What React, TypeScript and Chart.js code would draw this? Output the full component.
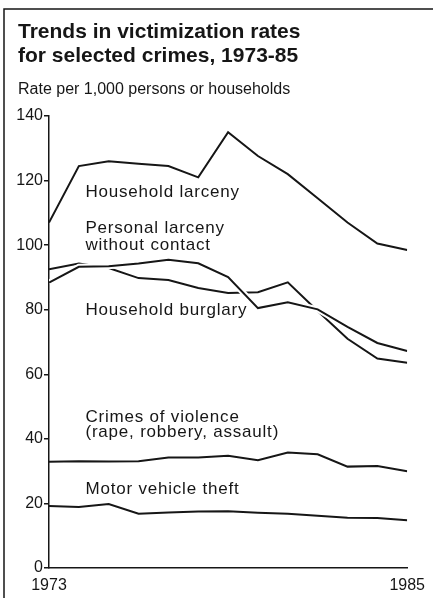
import React, { useEffect, useRef } from "react";
import { Chart, registerables } from "chart.js";

Chart.register(...registerables);

const years = [1973, 1974, 1975, 1976, 1977, 1978, 1979, 1980, 1981, 1982, 1983, 1984, 1985];
const householdLarceny = [107, 124.5, 126, 125.2, 124.5, 121, 135, 127.6, 122, 114.5, 107, 100.5, 98.5];
const personalLarcenyNoContact = [88.4, 93.3, 93.5, 94.3, 95.5, 94.4, 90.1, 80.5, 82.3, 80.1, 74.7, 69.7, 67.2];
const householdBurglary = [92.5, 94.3, 92.9, 89.8, 89.2, 86.7, 85.2, 85.4, 88.5, 79.6, 71.0, 64.9, 63.6];
const crimesOfViolence = [32.9, 33.1, 33.0, 33.1, 34.2, 34.2, 34.8, 33.4, 35.8, 35.2, 31.4, 31.6, 30.0];
const motorVehicleTheft = [19.2, 18.9, 19.8, 16.8, 17.2, 17.5, 17.6, 17.1, 16.8, 16.2, 15.6, 15.5, 14.8];

const yTicks = [0, 20, 40, 60, 80, 100, 120, 140];
const xTickYears = [1973, 1985];

const titleLines = ["Trends in victimization rates", "for selected crimes, 1973-85"];
const subtitle = "Rate per 1,000 persons or households";

const labelTexts = [
  "Household larceny",
  "Personal larceny",
  "without contact",
  "Household burglary",
  "Crimes of violence",
  "(rape, robbery, assault)",
  "Motor vehicle theft",
];
// anchor (year, value) of each label line's baseline-left
const labelYears = [1974.22, 1974.22, 1974.22, 1974.22, 1974.22, 1974.22, 1974.22];
const labelValues = [114.9, 103.8, 98.5, 78.4, 45.1, 40.7, 22.9];

const INK = "#161616";
const FONT = "'Liberation Sans', Arial, Helvetica, sans-serif";

export default function App() {
  const ref = useRef<HTMLCanvasElement>(null);

  useEffect(() => {
    const canvas = ref.current!;
    const pts = (vals: number[]) => vals.map((v, i) => ({ x: years[i], y: v }));
    const line = (label: string, vals: number[], extra: any = {}) => ({
      label,
      data: pts(vals),
      borderColor: INK,
      borderWidth: 2,
      pointRadius: 0,
      tension: 0,
      fill: false,
      ...extra,
    });

    const annot = {
      id: "annot",
      beforeDraw(chart: any) {
        const ctx = chart.ctx as CanvasRenderingContext2D;
        ctx.save();
        ctx.fillStyle = "#fff";
        ctx.fillRect(0, 0, chart.width, chart.height);
        ctx.strokeStyle = INK;
        ctx.lineWidth = 1.5;
        ctx.beginPath();
        ctx.moveTo(4, chart.height);
        ctx.lineTo(4, 9);
        ctx.lineTo(chart.width, 9);
        ctx.stroke();
        ctx.restore();
      },
      afterDraw(chart: any) {
        const ctx = chart.ctx as CanvasRenderingContext2D;
        const xs = chart.scales.x;
        const ys = chart.scales.y;
        ctx.save();
        ctx.fillStyle = INK;
        ctx.textAlign = "left";
        ctx.textBaseline = "alphabetic";
        ctx.font = `bold 21px ${FONT}`;
        titleLines.forEach((t, i) => ctx.fillText(t, 18, 38 + i * 23.5));
        ctx.font = `16px ${FONT}`;
        ctx.fillText(subtitle, 18, 94);
        ctx.font = `17px ${FONT}`;
        (ctx as any).letterSpacing = "0.8px";
        labelTexts.forEach((t, i) => {
          ctx.fillText(t, xs.getPixelForValue(labelYears[i]), ys.getPixelForValue(labelValues[i]));
        });
        ctx.restore();
      },
    };

    const chart = new Chart(canvas, {
      type: "line",
      data: {
        datasets: [
          line("Household larceny", householdLarceny, { order: 0 }),
          line("Personal larceny without contact", personalLarcenyNoContact, { order: 1 }),
          line("halo", personalLarcenyNoContact, { order: 2, borderColor: "#fff", borderWidth: 6 }),
          line("Household burglary", householdBurglary, { order: 3 }),
          line("Crimes of violence", crimesOfViolence, { order: 0 }),
          line("Motor vehicle theft", motorVehicleTheft, { order: 0 }),
        ] as any,
      },
      options: {
        responsive: false,
        animation: false,
        devicePixelRatio: 1,
        layout: { padding: { left: 0, right: 20, top: 116, bottom: 0 } },
        plugins: {
          legend: { display: false },
          tooltip: { enabled: false },
          title: { display: false },
        },
        scales: {
          x: {
            type: "linear",
            min: 1973,
            max: 1985,
            afterBuildTicks: (s: any) => {
              s.ticks = xTickYears.map((v) => ({ value: v }));
            },
            afterFit: (s: any) => {
              s.height = 30;
            },
            ticks: {
              callback: (v: any) => String(v),
              font: { family: FONT, size: 16 },
              color: INK,
              padding: 8,
              maxRotation: 0,
              autoSkip: false,
            },
            grid: { display: false, drawTicks: false },
            border: { display: true, color: INK, width: 1.5, dash: [24, 6], dashOffset: 26 },
          },
          y: {
            min: 0,
            max: 140,
            z: 1,
            afterBuildTicks: (s: any) => {
              s.ticks = yTicks.map((v) => ({ value: v }));
            },
            afterFit: (s: any) => {
              s.width = 49;
            },
            ticks: {
              font: { family: FONT, size: 16 },
              color: INK,
              padding: 1,
            },
            grid: {
              display: true,
              drawOnChartArea: false,
              drawTicks: true,
              tickLength: 5,
              color: INK,
              lineWidth: 1.5,
            },
            border: { display: true, color: INK, width: 1.5 },
          },
        } as any,
      },
      plugins: [annot],
    });
    return () => chart.destroy();
  }, []);

  return (
    <div style={{ position: "fixed", left: 0, top: 0, width: 433, height: 598, background: "#fff" }}>
      <canvas ref={ref} width={433} height={598} style={{ display: "block", width: 433, height: 598 }} />
    </div>
  );
}
